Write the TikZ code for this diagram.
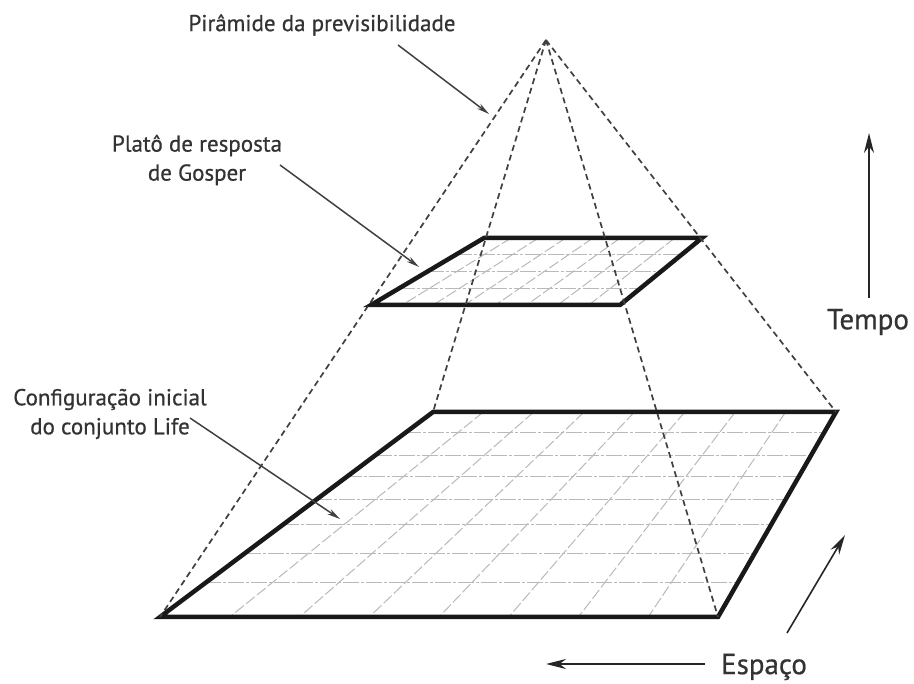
\documentclass[tikz,border=0pt]{standalone}
\usepackage{fontspec}
\setmainfont{PT Sans}
\usetikzlibrary{arrows.meta,calc}
\begin{document}
\begin{tikzpicture}[x=1pt,y=-1pt,
  frame/.style={line width=4.5pt, line join=miter, black!90},
  pyr/.style={dash pattern=on 6pt off 4pt, line width=1.7pt, black!75},
  gridh/.style={gray!55, line width=1pt, dash pattern=on 16pt off 2pt on 3pt off 2pt},
  gridv/.style={gray!55, line width=1pt, dash pattern=on 11pt off 3pt},
  lbl/.style={font=\fontsize{23}{29}\selectfont\addfontfeature{FakeBold=0.6}, text=black!80, align=center, inner sep=0pt},
  axlbl/.style={font=\fontsize{29}{34}\selectfont\addfontfeature{FakeBold=0.6}, text=black!80, inner sep=0pt},
  pointer/.style={line width=1.5pt, black!75, -{Stealth[length=13pt,width=6pt]}},
  axis/.style={line width=2pt, black!85, -{Stealth[length=20pt,width=10pt]}}
]
\useasboundingbox (0,0) rectangle (914,684);
% apex
\coordinate (apex) at (546,40);
% base
\coordinate (A) at (433,412);
\coordinate (B) at (836,412);
\coordinate (C) at (718,617);
\coordinate (D) at (160,617);
% plateau
\coordinate (P1) at (484,238);
\coordinate (P2) at (702,238);
\coordinate (P3) at (620,305);
\coordinate (P4) at (371,305);
% base grid
\foreach \t in {0.102,0.210,0.317,0.429,0.551,0.688,0.834}
  \draw[gridh] ($(A)!\t!(D)$) -- ($(B)!\t!(C)$);
\foreach \k in {1,...,7}
  \draw[gridv] ($(A)!\k/8!(B)$) -- ($(D)!\k/8!(C)$);
% plateau grid
\foreach \t in {0.25,0.5,0.75}
  \draw[gridh] ($(P1)!\t!(P4)$) -- ($(P2)!\t!(P3)$);
\foreach \k in {1,...,7}
  \draw[gridv] ($(P1)!\k/8!(P2)$) -- ($(P4)!\k/8!(P3)$);
% frames
\draw[frame] (A) -- (B) -- (C) -- (D) -- cycle;
\draw[frame] (P1) -- (P2) -- (P3) -- (P4) -- cycle;
% pyramid edges
\draw[pyr] (apex) -- (D);
\draw[pyr] (apex) -- (A);
\draw[pyr] (apex) -- (C);
\draw[pyr] (apex) -- (B);
% labels
\node[lbl] (tpir) at (322,25) {Pirâmide da previsibilidade};
\node[lbl] (tplato) at (197,160) {Platô de resposta\\de Gosper};
\node[lbl] (tconf) at (110,414) {Configuração inicial\\do conjunto Life};
\node[axlbl] (ttempo) at (868,322) {Tempo};
\node[axlbl] (tespaco) at (764,667) {Espaço};
% pointers
\coordinate (pirS) at (398,45);
\coordinate (pirE) at (489,114);
\draw[pointer] (pirS) -- (pirE);
\coordinate (plS) at (280,165);
\coordinate (plE) at (419,267);
\draw[pointer] (plS) -- (plE);
\coordinate (cfS) at (190,418);
\coordinate (cfE) at (340,519);
\draw[pointer] (cfS) -- (cfE);
% axes
\coordinate (tmB) at (869,298);
\coordinate (tmT) at (869,133);
\draw[axis] (tmB) -- (tmT);
\coordinate (esR) at (705,664);
\coordinate (esL) at (546,664);
\draw[axis] (esR) -- (esL);
\coordinate (dpB) at (787,633);
\coordinate (dpT) at (845,535);
\draw[axis, line width=1.6pt] (dpB) -- (dpT);
\end{tikzpicture}
\end{document}
